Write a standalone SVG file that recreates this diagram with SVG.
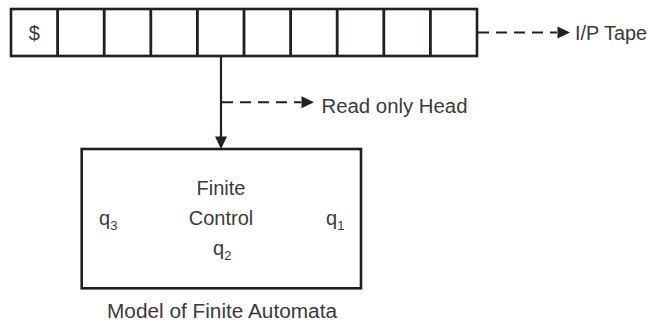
<svg xmlns="http://www.w3.org/2000/svg" width="649" height="322" viewBox="0 0 649 322">
<style>
.t{font-family:"Liberation Sans",Arial,sans-serif;font-size:20px;fill:#3a3a3a}
.sub{font-family:"Liberation Sans",Arial,sans-serif;font-size:13px;fill:#3a3a3a}
.box{fill:#fff;stroke:#231f20;stroke-width:2.6}
.cell{stroke:#231f20;stroke-width:2.8}
.dash{stroke:#231f20;stroke-width:2;stroke-dasharray:11 7;fill:none}
.solid{stroke:#231f20;stroke-width:2.2;fill:none}
.head{fill:#231f20}
</style>
<g id="tape">
<rect class="box" x="11" y="9" width="466" height="47"/>
<path class="cell" d="M57.6 9V56M104.2 9V56M150.8 9V56M197.4 9V56M244 9V56M290.6 9V56M337.2 9V56M383.8 9V56M430.4 9V56"/>
<text class="t" x="34.3" y="40" text-anchor="middle">$</text>
</g>
<g id="finite-control">
<rect class="box" x="81.7" y="149" width="279.3" height="139.3"/>
<text class="t" x="221" y="195" text-anchor="middle">Finite</text>
<text class="t" x="221" y="225" text-anchor="middle">Control</text>
<text class="t" x="99" y="225">q<tspan class="sub" dy="5">3</tspan></text>
<text class="t" x="326" y="225">q<tspan class="sub" dy="5">1</tspan></text>
<text class="t" x="213" y="255">q<tspan class="sub" dy="5">2</tspan></text>
</g>
<g id="labels">
<text class="t" x="575" y="39.5" textLength="72" lengthAdjust="spacingAndGlyphs">I/P Tape</text>
<text class="t" x="321.5" y="112.5" textLength="146" lengthAdjust="spacingAndGlyphs">Read only Head</text>
<text class="t" x="107" y="318" textLength="230" lengthAdjust="spacingAndGlyphs">Model of Finite Automata</text>
</g>
<g id="connectors">
<path class="dash" d="M478 32.5H557"/>
<path class="head" d="M557.5 26.5L570 32.5L557.5 38.5Z"/>
<path class="solid" d="M221 56V137"/>
<path class="head" d="M215 136.5H227L221 149Z"/>
<path class="dash" d="M222 102.3H301.5"/>
<path class="head" d="M301.5 96.3L314 102.3L301.5 108.3Z"/>
</g>
</svg>
